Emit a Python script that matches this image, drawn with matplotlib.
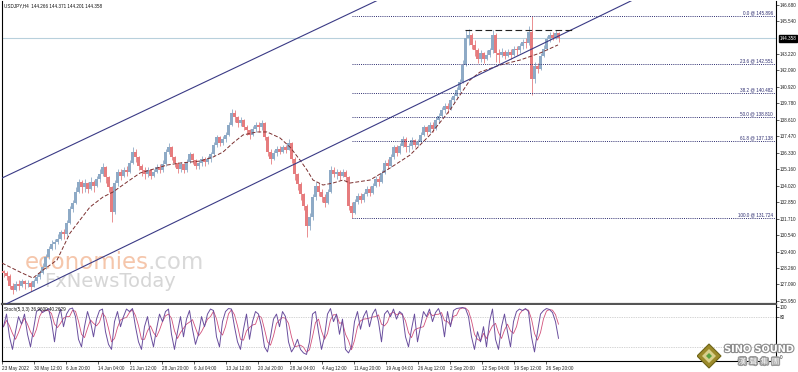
import matplotlib
matplotlib.use('Agg')
import matplotlib.pyplot as plt
import numpy as np
import pandas as pd
from matplotlib import patheffects as pe
from matplotlib.patches import Polygon

# ---------------- data ----------------
symbol_header = "USDJPY,H4  144.266 144.371 144.201 144.358"
stoch_header = "Stoch(5,3,3) 36.9600 40.2629"
last_price = 144.358

# each candle aggregates 3 H4 bars (23 May 2022 -> 28 Sep 2022)
closes = [127.9,127.7,127.0,126.7,127.1,127.0,127.3,127.1,127.2,126.9,
          127.3,127.6,127.9,128.3,129.0,129.6,129.9,130.1,130.3,130.8,
          130.6,131.4,132.4,132.8,133.6,134.3,133.9,134.2,133.8,134.3,
          134.0,134.5,134.8,135.3,134.6,133.9,132.2,134.2,135.0,134.7,
          135.1,135.0,135.6,136.4,136.0,135.4,135.1,134.8,135.1,134.7,
          135.0,135.3,135.1,135.5,136.4,136.7,136.0,135.6,135.2,135.5,
          135.1,135.7,136.2,135.8,135.4,135.6,135.9,135.7,135.9,136.2,
          136.9,137.4,137.0,137.3,137.6,138.3,139.1,138.8,138.4,138.6,
          138.1,137.9,137.6,138.0,138.3,138.1,138.4,137.4,136.4,135.9,
          136.3,136.6,136.4,136.7,136.5,137.0,135.9,134.8,134.1,133.4,
          132.6,131.2,131.8,133.2,134.0,133.6,133.2,132.8,133.6,135.1,
          134.8,135.0,134.7,135.0,134.6,132.6,132.1,132.9,133.3,133.0,
          133.4,133.8,133.5,134.0,134.5,134.3,134.9,135.6,135.4,136.0,
          136.7,136.3,136.8,137.3,136.7,136.8,137.2,136.9,137.1,137.6,
          138.1,137.8,138.3,138.0,138.6,138.9,139.3,139.6,139.4,140.0,
          140.3,140.7,141.3,142.5,144.4,144.6,143.9,143.5,142.9,143.3,
          142.9,143.2,143.5,144.6,143.3,143.2,143.4,143.1,143.4,143.2,
          143.6,143.5,143.8,144.1,144.0,144.8,141.5,142.4,142.2,143.1,
          143.6,144.3,144.6,144.4,144.7,144.358]
highs = [128.1,128.0,127.8,127.2,127.3,127.4,127.5,127.4,127.4,127.3,
         127.5,127.8,128.1,128.6,129.2,129.8,130.2,130.3,130.6,130.9,
         131.0,131.6,132.6,133.0,133.9,134.5,134.4,134.5,134.3,134.6,
         134.4,134.7,135.2,135.6,135.4,134.7,134.0,134.4,135.2,135.2,
         135.3,135.4,135.8,136.7,136.6,136.1,135.5,135.3,135.3,135.2,
         135.2,135.5,135.5,135.8,136.6,137.0,136.8,136.1,135.7,135.7,
         135.6,135.9,136.4,136.3,135.9,135.8,136.1,136.0,136.1,136.4,
         137.1,137.6,137.5,137.5,137.8,138.5,139.4,139.3,138.9,138.8,
         138.7,138.3,138.0,138.2,138.5,138.5,138.6,138.5,137.5,136.6,
         136.5,136.8,136.8,136.9,136.9,137.3,137.1,136.0,134.9,134.3,
         133.5,132.7,132.1,133.4,134.3,134.2,133.8,133.4,133.8,135.4,
         135.3,135.2,135.1,135.2,135.1,134.7,132.9,133.1,133.5,133.5,
         133.6,134.0,134.0,134.2,134.7,134.7,135.1,135.8,135.9,136.2,
         136.9,136.9,137.0,137.5,137.4,137.0,137.4,137.3,137.3,137.8,
         138.3,138.2,138.5,138.5,138.8,139.1,139.5,139.8,139.8,140.2,
         140.5,140.9,141.5,142.8,144.9,144.99,144.7,144.2,143.7,143.5,
         143.4,143.5,143.7,144.96,144.7,143.6,143.7,143.5,143.6,143.6,
         143.8,143.8,144.0,144.3,144.4,145.2,145.9,142.7,142.6,143.3,
         143.9,144.5,144.8,144.8,144.9,144.8]
lows = [127.6,127.4,126.8,126.4,126.6,126.7,126.9,126.8,126.9,126.6,
        126.9,127.2,127.5,127.8,128.2,128.9,129.5,129.6,129.9,130.2,
        130.3,130.5,131.3,132.2,132.7,133.5,133.5,133.6,133.5,133.7,
        133.6,133.9,134.3,134.7,134.2,133.6,131.5,132.0,134.0,134.4,
        134.6,134.7,134.9,135.5,135.7,135.1,134.7,134.5,134.6,134.5,
        134.6,134.9,134.9,135.0,135.4,136.2,135.8,135.3,134.9,135.0,
        134.9,135.0,135.6,135.5,135.2,135.2,135.4,135.4,135.5,135.7,
        136.1,136.7,136.8,136.9,137.1,137.5,138.2,138.5,138.1,138.2,
        137.9,137.6,137.3,137.5,137.8,137.8,137.9,137.2,136.1,135.5,
        135.8,136.1,136.2,136.3,136.3,136.5,135.6,134.4,133.7,133.0,
        132.3,130.4,130.9,131.6,133.0,133.3,132.9,132.5,132.7,133.5,
        134.6,134.5,134.4,134.6,134.3,132.3,131.73,132.0,132.7,132.8,
        132.9,133.3,133.3,133.4,133.9,134.0,134.2,134.8,135.2,135.3,
        135.9,136.1,136.2,136.7,136.4,136.4,136.6,136.7,136.8,137.0,
        137.5,137.6,137.7,137.8,137.9,138.4,138.8,139.1,139.1,139.3,
        139.8,140.1,140.6,141.2,142.4,143.9,143.6,143.1,142.6,142.7,
        142.6,142.8,143.0,143.3,142.7,142.6,143.0,142.9,143.0,142.9,
        143.1,143.2,143.3,143.6,143.7,143.9,140.35,141.2,141.9,142.1,
        143.0,143.5,144.1,144.2,144.3,144.1]

# moving average (dashed): bar position / price
ma_bars = [0, 8, 18, 31, 41, 55, 68, 78, 88, 101, 111, 125, 138, 155, 165, 178,
           198, 211, 221, 231, 241, 255, 265, 278, 288, 298, 305, 311, 321, 331,
           341, 348, 368, 388, 408, 428, 448, 458, 468, 478, 498, 518, 538, 556]
ma_vals = [128.59,128.31,127.96,127.54,128.10,128.80,130.69,131.61,132.52,133.22,
           133.57,134.27,134.90,135.25,135.46,135.60,135.74,136.02,136.37,137.01,
           137.57,137.78,137.78,137.36,136.72,135.81,135.11,134.41,134.06,134.20,
           134.41,134.20,134.41,135.25,136.16,137.57,139.32,140.37,141.42,141.98,
           142.47,142.82,143.31,143.88]

# Stochastic %K (one value per candle)
stoch_k = [60,85,40,15,50,80,65,85,45,20,
           55,90,95,88,92,96,70,30,75,95,
           60,85,95,97,80,35,20,60,90,70,
           40,75,92,95,50,25,15,70,90,60,
           80,95,90,96,60,30,15,60,80,45,
           20,55,85,70,90,95,45,15,50,80,
           40,75,92,55,25,45,80,60,85,95,
           92,40,20,70,90,96,95,60,30,15,
           55,85,35,70,90,85,60,20,10,40,
           75,85,60,90,80,30,10,20,35,15,
           8,5,30,85,90,50,15,40,85,96,
           70,85,45,75,15,8,20,70,90,55,
           80,92,60,85,95,70,30,85,92,80,
           95,75,90,85,40,20,55,85,30,60,
           90,80,95,70,88,96,80,40,90,60,
           92,96,97,98,96,80,40,15,50,30,
           60,20,70,95,35,15,60,85,50,20,
           70,90,95,92,96,90,40,10,50,85,
           92,96,94,88,70,37]

# Channel (two anchor points each: bar, price)
channel_upper = [(0, 134.55), (400, 147.82)]
channel_lower = [(0, 125.58), (700, 149.38)]

# Fibonacci retracement
fib_high = 145.896
fib_low = 131.724
fib_levels = [0.0, 23.6, 38.2, 50.0, 61.8, 100.0]
fib_start_bar = 350

# range top (dashed)
range_top = 144.93
range_bars = (463, 570)

price_ticks = [146.680, 145.540, 143.220, 142.090, 140.920, 139.780, 138.610,
               137.470, 136.330, 135.160, 134.020, 132.850, 131.710, 130.540,
               129.400, 128.260, 127.090, 125.950]
date_labels = ["23 May 2022", "30 May 12:00", "6 Jun 20:00", "14 Jun 04:00",
               "21 Jun 12:00", "28 Jun 20:00", "6 Jul 04:00", "13 Jul 12:00",
               "20 Jul 20:00", "28 Jul 04:00", "4 Aug 12:00", "11 Aug 20:00",
               "19 Aug 04:00", "26 Aug 12:00", "2 Sep 20:00", "12 Sep 04:00",
               "19 Sep 12:00", "26 Sep 20:00"]
stoch_ticks = [100, 80, 0]
stoch_levels = [80, 20]

# ---------------- figure ----------------
W, H = 798, 372
fig = plt.figure(figsize=(W / 100, H / 100), dpi=100)
fig.patch.set_facecolor('white')
SMALL = dict(family='Liberation Sans', fontsize=3.3)

def fx(px):
    return px / W

def fy(py):
    return 1 - py / H

ax = fig.add_axes([fx(2), fy(304), fx(776) - fx(2), fy(1) - fy(304)])
ax2 = fig.add_axes([fx(2), fy(361), fx(776) - fx(2), fy(305) - fy(361)])

BARS_PER_CANDLE = 3
n = len(closes)
xc = np.arange(n) * BARS_PER_CANDLE + 1.5
opens = [closes[0] + 0.1] + closes[:-1]

bull = '#8eaac6'
bear = '#e67c7e'
cols = [bull if c >= o else bear for o, c in zip(opens, closes)]
ax.vlines(xc, lows, highs, colors=cols, linewidth=0.6, zorder=3)
bot = np.minimum(opens, closes)
hgt = np.maximum(np.abs(np.array(closes) - np.array(opens)), 0.04)
ax.bar(xc, hgt, bottom=bot, width=2.5, color=cols, linewidth=0, zorder=3)

# watermark
ax.text(23, 128.2, "economies", fontsize=16.5, color='#f5c6ab', family='DejaVu Sans',
        va='baseline', zorder=1)
ax.text(145, 128.2, ".com", fontsize=16.5, color='#d9d9d9', family='DejaVu Sans',
        va='baseline', zorder=1)
ax.text(42, 126.9, "FxNewsToday", fontsize=14, color='#d6d6d6', family='DejaVu Sans',
        va='baseline', zorder=1)

# MA
ax.plot(ma_bars, ma_vals, color='#7b2f2f', lw=0.7, dashes=(4, 2), zorder=4)

# channel lines
for seg in (channel_upper, channel_lower):
    (b0, p0), (b1, p1) = seg
    ax.plot([b0, b1], [p0, p1], color='#3a3a85', lw=0.8, zorder=4)

# current price line
ax.axhline(last_price, color='#b8d0dc', lw=0.8, zorder=2)

# fib
for lv in fib_levels:
    p = fib_high - (fib_high - fib_low) * lv / 100.0
    ax.plot([fib_start_bar, 774], [p, p], color='#2d2d70', lw=0.7,
            linestyle=(0, (1, 1.2)), zorder=4)
    ax.text(771, p + 0.05, f"{lv:.1f} @ {p:.3f}", color='#2d2d70',
            ha='right', va='bottom', zorder=5, **SMALL)

# range top dashed
ax.plot(range_bars, [range_top, range_top], color='#222222', lw=0.8,
        dashes=(6, 3), zorder=4)

ax.set_xlim(0, 774)
ax.set_ylim(125.72, 146.96)
ax.yaxis.tick_right()
ax.set_yticks(price_ticks)
ax.set_yticklabels([f"{t:.3f}" for t in price_ticks], **SMALL)
ax.tick_params(axis='y', length=2, width=0.5, pad=0.8, colors='#222222')
ax.set_xticks([])
ax.spines['top'].set_visible(False)
ax.spines['left'].set_linewidth(0.8)
ax.spines['right'].set_linewidth(0.8)
ax.spines['bottom'].set_linewidth(1.6)
ax.spines['bottom'].set_color('#555555')

# current price box
ax.text(777.5, last_price, f"{last_price:.3f}", color='white',
        ha='left', va='center', zorder=6, clip_on=False,
        bbox=dict(boxstyle='square,pad=0.2', fc='black', ec='black'), **SMALL)

# ---------------- stochastic ----------------
k = pd.Series(stoch_k, dtype=float)
d = k.rolling(3, min_periods=1).mean()
ax2.plot(xc, k, color='#6a4f9e', lw=0.7, zorder=3)
ax2.plot(xc, d, color='#d2507a', lw=0.6, zorder=2)
for lvl in stoch_levels:
    ax2.axhline(lvl, color='#aaaaaa', lw=0.5, linestyle=(0, (1, 1.5)))
ax2.set_xlim(0, 774)
ax2.set_ylim(-8, 103)
ax2.yaxis.tick_right()
ax2.set_yticks(stoch_ticks)
ax2.set_yticklabels([str(t) for t in stoch_ticks], **SMALL)
ax2.tick_params(axis='y', length=2, width=0.5, pad=0.8, colors='#222222')
ax2.set_xticks([32 * i for i in range(len(date_labels))])
ax2.set_xticklabels(date_labels, ha='left', **SMALL)
ax2.tick_params(axis='x', length=2, width=0.5, pad=1.5, colors='#222222')
ax2.spines['top'].set_visible(False)
for s in ('left', 'right', 'bottom'):
    ax2.spines[s].set_linewidth(0.8)

fig.text(fx(4), fy(6), symbol_header, va='center', ha='left', color='#111111', **SMALL)
fig.text(fx(4), fy(309), stoch_header, va='center', ha='left', color='#111111', **SMALL)

# logo (bottom right)
lax = fig.add_axes([fx(697), fy(372), fx(101), fy(336) - fy(372)])
lax.set_xlim(0, 101)
lax.set_ylim(0, 36)
lax.axis('off')
lax.add_patch(Polygon([(12, 4), (24, 16), (12, 28), (0, 16)], closed=True,
                      fc='#9c8a2a', ec='#6e6418', lw=0.8))
lax.add_patch(Polygon([(12, 9), (19, 16), (12, 23), (5, 16)], closed=True,
                      fc='#d8cf8a', ec='none'))
lax.add_patch(Polygon([(12, 13), (15, 16), (12, 19), (9, 16)], closed=True,
                      fc='#5aa040', ec='none'))
lax.text(62, 23, "SINO SOUND", fontsize=7, color='white', fontweight='bold',
         ha='center', va='center',
         path_effects=[pe.withStroke(linewidth=1.6, foreground='#8c8c8c')])
lax.text(62, 10, "漢  聲  集  團", fontsize=5.5, color='white',
         family=['Noto Sans CJK TC', 'DejaVu Sans'], ha='center', va='center',
         path_effects=[pe.withStroke(linewidth=2.2, foreground='#9a9a9a')])

fig.savefig('out.png', dpi=100, facecolor='white')
